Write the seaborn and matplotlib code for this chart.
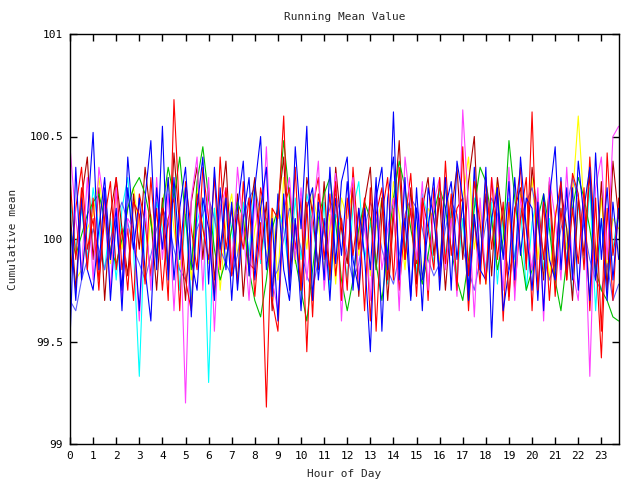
import numpy as np
import pandas as pd
import seaborn as sns
import matplotlib.pyplot as plt

# deviations from 100, in hundredths, 4 samples per hour (00, 15, 30, 45 min)
red = [30, -10, 25, -15, 20, -20, 10, 28, -15, 5, -25, 18, 12, -22, 30, -8,
       15, -30, 68, 10, -20, -35, 22, 5, -10, 30, -15, 25, -18, 12, -5, 20,
       -28, 8, -82, 15, 10, 60, -20, 35, -25, 18, -38, 22, 5, -15, 28, -30,
       20, -8, 15, -35, 25, -45, 12, 30, -20, 35, -10, 15, -28, 20, 5, -15,
       30, -12, 22, -25, 45, -18, 28, 8, -22, 30, -10, 18, -30, 12, 35, -15,
       62, -25, 18, -30, 10, 28, -20, 15, -12, 25, -35, 20, -45, 42, -8, 12]
green = [5, -8, 2, 12, 18, 22, 10, -5, -12, 0, 15, 25, 30, 22, 8, -10,
         15, 35, 20, 40, 10, -15, 28, 45, 20, -5, -20, -10, 5, 18, 10, -15,
         -30, -38, -20, 5, 15, 48, 20, -10, -25, -40, -15, 10, 22, 30, 8, -20,
         -35, -20, 5, 18, 10, -12, -30, -5, 20, 38, 25, 5, -10, -22, -8, 12,
         25, 15, -5, -20, -30, -10, 15, 35, 28, 10, -15, 0, 48, 20, -5, -25,
         -15, 10, 22, 5, -20, -35, -10, 15, 30, 20, 5, -15, -25, -30, -38, -40]
blue = [-50, 35, -20, 10, 52, -15, 25, -30, 10, -25, 40, 5, -35, 20, 48, -15,
        55, -20, 30, -10, 25, -38, 15, 40, -22, 35, -5, 20, -30, 15, 38, -18,
        25, 50, -15, 10, -40, 22, -25, 45, 5, 55, -30, 18, -20, 35, -12, 28,
        40, -25, 15, -8, -55, 20, 35, -15, 62, -20, 30, -28, 15, -35, 25, 10,
        -18, 30, -25, 38, 20, -30, 12, -15, 35, -48, 22, -10, 28, -20, 40, 5,
        -25, 18, -35, 20, 45, -15, 25, -20, 38, 10, -30, 42, -10, 25, -20, 15]
magenta = [45, 10, -15, 30, -20, 35, 15, -25, 25, -30, 10, 5, -40, 18, -25, 30,
           -10, 22, -35, 15, -80, 20, 40, -25, 30, -45, 15, 25, -15, 35, 5, -30,
           20, -10, 45, -20, -35, 15, 30, -10, 25, -20, 10, 38, -25, 5, 32, -40,
           15, 30, -20, 10, -30, 25, -15, 5, 20, -35, 40, 15, -10, 28, -25, 18,
           30, -15, 10, -28, 63, 15, -38, 20, -20, 30, 10, -25, 35, -30, 20, 5,
           -15, 25, -40, 30, 10, -20, 35, -15, -30, 20, -67, 25, 40, -10, 50, 55]
cyan = [20, -5, 15, -10, 25, 5, -15, 10, -20, 15, 30, -5, -67, 10, -20, 18,
        5, -15, 25, -25, 12, -30, 8, 20, -70, 15, -10, 22, 5, -20, 18, -8,
        28, -12, 10, -25, 15, 5, -18, 20, -10, 22, 8, -15, 18, -25, 12, 5,
        -20, 15, 28, -10, 8, -15, 20, -22, 12, 30, -5, 15, -18, 22, 10, -12,
        25, -8, 15, -20, 10, -30, 20, 5, -15, 18, -22, 12, 20, -10, 15, -25,
        8, 22, -15, 10, -20, 15, 5, -28, 18, -12, 25, -35, 10, -20, -5, 15]
yellow = [-10, -20, -15, 5, 12, 30, 8, -12, 20, -5, 15, 25, 5, -18, 12, -8,
          18, 30, 5, -15, 10, -20, 25, 5, -12, 15, -25, 8, 22, -8, 12, -18,
          5, 20, -10, 15, -20, 30, 10, -12, 18, -5, 22, 8, -15, 12, -22, 20,
          10, 25, -8, 15, -18, 5, 20, -10, 28, 12, -15, 22, 5, -20, 15, 10,
          -12, 25, 8, -18, 20, 40, -5, 15, -22, 10, 28, -8, 15, -15, 22, 5,
          30, -10, 18, -20, 12, 25, -5, 20, 60, 15, 35, -10, 20, -15, 10, 5]
darkred = [15, -25, 20, 40, -10, 25, -30, 12, 30, 5, -18, 22, -5, 35, 10, -25,
           20, -15, 42, 5, -30, 18, 35, -10, 25, -20, 12, 38, -15, 22, -28, 10,
           30, -10, 18, -35, 15, 40, -20, 8, -25, 30, 12, -15, 28, -20, 35, 5,
           -12, 25, -28, 18, 35, -15, 20, -30, 10, 48, -10, 25, -22, 15, 30, -8,
           20, -25, 12, 35, -10, 28, 50, -15, 22, -18, 30, 8, -28, 15, 25, -12,
           35, 10, -20, 28, -15, 25, 5, -30, 20, -8, 32, -18, 28, -25, 38, 10]
slateblue = [-30, -35, -20, -10, 5, -5, -15, 0, 10, 18, 8, -5, -12, -20, -8, 5,
             15, 8, -5, -15, -20, -10, 5, 12, 20, 10, -5, -12, -18, -8, 10, 20,
             25, 12, -8, -20, -15, 0, 15, 8, -5, -18, -25, -10, 5, 15, 22, 10,
             -8, -20, -12, 5, 18, 10, -5, -15, -22, -8, 12, 20, 15, 5, -10, -18,
             -12, 5, 18, 12, -5, -15, -25, -10, 8, 20, 12, -5, -15, -8, 10, 18,
             25, 10, -8, -20, -12, 5, 15, 30, 20, 5, -10, -20, -25, -12, -30, -22]
red2 = [-20, 15, 35, -5, 10, -25, 20, -10, 30, -15, 5, -30, 22, 8, -18, 15,
        -25, 10, 20, -35, 28, 5, -15, 35, 10, -28, 40, -5, 15, -22, 28, -12,
        -15, 25, 8, -30, -45, 15, 25, -5, 20, -55, 15, 30, -10, 22, -18, 10,
        -25, 35, -5, 20, -40, 12, 25, -20, 15, -25, 8, 32, -12, 18, -30, 25,
        -20, 38, -8, 15, 20, -35, 10, -22, 30, -5, 25, -40, 18, -25, 10, 30,
        -35, 20, -10, 25, -28, 15, -20, 32, 22, -15, 40, -5, -58, 15, -30, 20]
blue2 = [10, -30, 20, -15, -25, 5, 30, -10, 15, -35, 25, -5, 20, -15, -40, 25,
         -5, 30, -20, 15, 35, -10, -25, 20, 5, -30, 25, -15, 18, -25, 10, 30,
         -20, 15, 35, -28, 22, -15, -30, 10, -35, 15, 25, -20, 10, -30, 20, -8,
         28, -10, -25, 15, -15, 30, -45, 20, 40, -15, 10, -30, 25, -20, 5, 30,
         -25, 15, 28, -10, 18, -25, 35, -15, -20, 10, 25, -35, -15, 30, -8, 20,
         15, -30, 22, -10, -20, 30, -15, 25, -25, 15, 35, -20, 10, -30, 18, -10]

series = {'yellow': yellow, 'cyan': cyan, 'slateblue': slateblue, 'darkred': darkred,
          'green': green, 'red2': red2, 'magenta': magenta, 'blue2': blue2,
          'red': red, 'blue': blue}
colors = ['#ffff00', '#00ffff', '#6060ff', '#b00000', '#00c000', '#ff0000',
          '#ff40ff', '#0000ff', '#ff0000', '#0000ff']
hours = [h / 4 for h in range(96)]

rows = []
for name, vals in series.items():
    for h, v in zip(hours, vals):
        rows.append({'hour': h, 'value': 100 + v / 100, 'series': name})
df = pd.DataFrame(rows)

sns.set_style('ticks')
plt.rcParams['font.family'] = ['DejaVu Sans Mono']

fig = plt.figure(figsize=(6.4, 4.8), dpi=100)
ax = fig.add_axes([70 / 640, 36 / 480, 548.7 / 640, 410 / 480])
sns.lineplot(data=df, x='hour', y='value', hue='series', hue_order=list(series),
             palette=colors, linewidth=0.8, legend=False, estimator=None, ax=ax)

ax.set_xlim(0, 23.75)
ax.set_ylim(99, 101)
ax.set_xticks(range(24))
ax.set_yticks([99, 99.5, 100, 100.5, 101])
ax.set_yticklabels(['99', '99.5', '100', '100.5', '101'])
ax.tick_params(direction='in', top=True, right=True, length=5, width=1,
               labelsize=8, colors='black', pad=5)
for s in ax.spines.values():
    s.set_visible(True)
    s.set_color('black')
    s.set_linewidth(1)

ax.set_title('Running Mean Value', fontsize=8, pad=10)
ax.set_xlabel('Hour of Day', fontsize=8, labelpad=6)
ax.set_ylabel('Cumulative mean', fontsize=8, labelpad=8)

plt.savefig('out.png', dpi=100)
